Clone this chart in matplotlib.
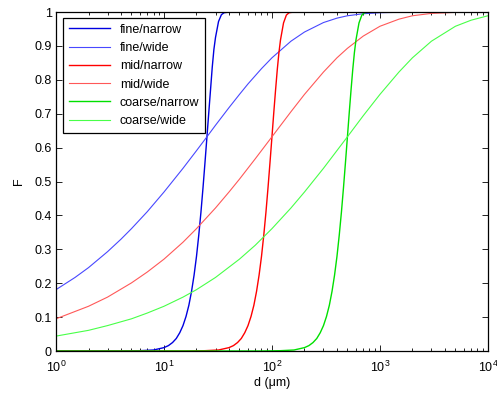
import matplotlib
matplotlib.use("Agg")
import matplotlib.pyplot as plt
from matplotlib.ticker import LogLocator, NullFormatter

plt.rcParams['font.family'] = ['Liberation Sans', 'DejaVu Sans']
plt.rcParams['mathtext.fontset'] = 'custom'
plt.rcParams['mathtext.rm'] = 'Liberation Sans'

# values (d in um, F cumulative fraction)
d_fine_narrow = [1, 4, 6, 8, 10, 11, 12, 13, 14, 15, 16, 17, 18, 19, 20, 21, 22, 23, 24,
                 25, 26, 27, 28, 29, 30, 32, 34, 36, 40, 100, 1000, 10000]
F_fine_narrow = [0, 0.0001, 0.001, 0.003, 0.010, 0.016, 0.025, 0.037, 0.054, 0.075, 0.102,
                 0.135, 0.176, 0.224, 0.279, 0.342, 0.410, 0.483, 0.558, 0.632, 0.704, 0.772,
                 0.838, 0.890, 0.925, 0.972, 0.992, 0.998, 1.0, 1.0, 1.0, 1.0]

d_fine_wide = [1, 1.5, 2, 3, 4, 5, 7, 10, 15, 20, 25, 30, 40, 50, 60, 80, 100, 150, 200,
               300, 400, 500, 700, 1000, 2000, 10000]
F_fine_wide = [0.181, 0.217, 0.246, 0.293, 0.330, 0.361, 0.411, 0.469, 0.539, 0.591, 0.632,
               0.666, 0.718, 0.757, 0.788, 0.833, 0.865, 0.914, 0.941, 0.969, 0.982, 0.989,
               0.995, 0.998, 1.0, 1.0]

d_mid_narrow = [1, 16, 24, 32, 40, 44, 48, 52, 56, 60, 64, 68, 72, 76, 80, 84, 88, 92, 96,
                100, 104, 108, 112, 116, 120, 128, 136, 144, 160, 400, 1000, 10000]
F_mid_narrow = [0, 0.0001, 0.001, 0.003, 0.010, 0.016, 0.025, 0.037, 0.054, 0.075, 0.102,
                0.135, 0.176, 0.224, 0.279, 0.342, 0.410, 0.483, 0.558, 0.632, 0.704, 0.770,
                0.830, 0.880, 0.918, 0.968, 0.991, 0.998, 1.0, 1.0, 1.0, 1.0]

d_mid_wide = [1, 2, 3, 5, 7, 10, 15, 20, 30, 40, 50, 70, 100, 150, 200, 300, 400, 500, 700,
              1000, 1500, 2000, 3000, 5000, 10000]
F_mid_wide = [0.095, 0.132, 0.159, 0.201, 0.233, 0.271, 0.321, 0.361, 0.422, 0.469, 0.507,
              0.567, 0.632, 0.706, 0.757, 0.823, 0.865, 0.893, 0.929, 0.958, 0.979, 0.989,
              0.996, 0.999, 1.0]

d_coarse_narrow = [1, 80, 120, 160, 200, 220, 240, 260, 280, 300, 320, 340, 360, 380, 400,
                   420, 440, 460, 480, 500, 520, 540, 560, 580, 600, 640, 680, 720, 800,
                   2000, 10000]
F_coarse_narrow = [0, 0.0001, 0.001, 0.003, 0.010, 0.016, 0.025, 0.037, 0.054, 0.075, 0.102,
                   0.135, 0.176, 0.224, 0.279, 0.342, 0.410, 0.483, 0.558, 0.632, 0.704,
                   0.770, 0.830, 0.880, 0.918, 0.968, 0.991, 0.998, 1.0, 1.0, 1.0]

d_coarse_wide = [1, 2, 3, 5, 7, 10, 15, 20, 30, 50, 70, 100, 150, 200, 300, 500, 700, 1000,
                 1500, 2000, 3000, 5000, 7000, 10000]
F_coarse_wide = [0.044, 0.061, 0.075, 0.095, 0.112, 0.132, 0.159, 0.181, 0.217, 0.271, 0.312,
                 0.361, 0.422, 0.469, 0.539, 0.632, 0.694, 0.757, 0.823, 0.865, 0.914, 0.958,
                 0.976, 0.989]

labels = ['fine/narrow', 'fine/wide', 'mid/narrow', 'mid/wide', 'coarse/narrow', 'coarse/wide']
colors = ['#0000e0', '#4848ff', '#ff0000', '#ff5858', '#00e000', '#48ff48']
series = [(d_fine_narrow, F_fine_narrow), (d_fine_wide, F_fine_wide),
          (d_mid_narrow, F_mid_narrow), (d_mid_wide, F_mid_wide),
          (d_coarse_narrow, F_coarse_narrow), (d_coarse_wide, F_coarse_wide)]

y_ticks = [0, 0.1, 0.2, 0.3, 0.4, 0.5, 0.6, 0.7, 0.8, 0.9, 1]
y_ticklabels = ['0', '0.1', '0.2', '0.3', '0.4', '0.5', '0.6', '0.7', '0.8', '0.9', '1']

fig = plt.figure(figsize=(4.97, 3.96), dpi=100)
ax = fig.add_axes([0.1127, 0.1136, 0.869, 0.856])

for i, (d, F) in enumerate(series):
    lw = 1.0 if i % 2 == 0 else 0.8
    ax.semilogx(d, F, color=colors[i], linewidth=lw, label=labels[i])

ax.set_xlim(1, 1e4)
ax.set_ylim(0, 1)
ax.set_yticks(y_ticks)
ax.set_yticklabels(y_ticklabels)
ax.xaxis.set_major_locator(LogLocator(base=10, numticks=10))
ax.xaxis.set_minor_locator(LogLocator(base=10, subs=range(2, 10), numticks=10))
ax.xaxis.set_minor_formatter(NullFormatter())
ax.tick_params(which='both', direction='in', top=True, right=True, labelsize=9, colors='black')
ax.tick_params(which='major', length=4, width=0.6)
ax.tick_params(which='minor', length=2.5, width=0.6)
ax.tick_params(axis='x', which='major', pad=6)
ax.tick_params(axis='y', which='major', pad=3)
for s in ax.spines.values():
    s.set_linewidth(0.9)

ax.set_xlabel('d (μm)', fontsize=9, labelpad=2)
ax.set_ylabel('F', fontsize=9, labelpad=7)

leg = ax.legend(loc='upper left', bbox_to_anchor=(0.016, 0.982), borderaxespad=0,
                fontsize=9, handlelength=3.3, fancybox=False, framealpha=1,
                edgecolor='black', labelspacing=0.5, borderpad=0.45)
leg.get_frame().set_linewidth(0.9)

fig.savefig('out.png', dpi=100)
